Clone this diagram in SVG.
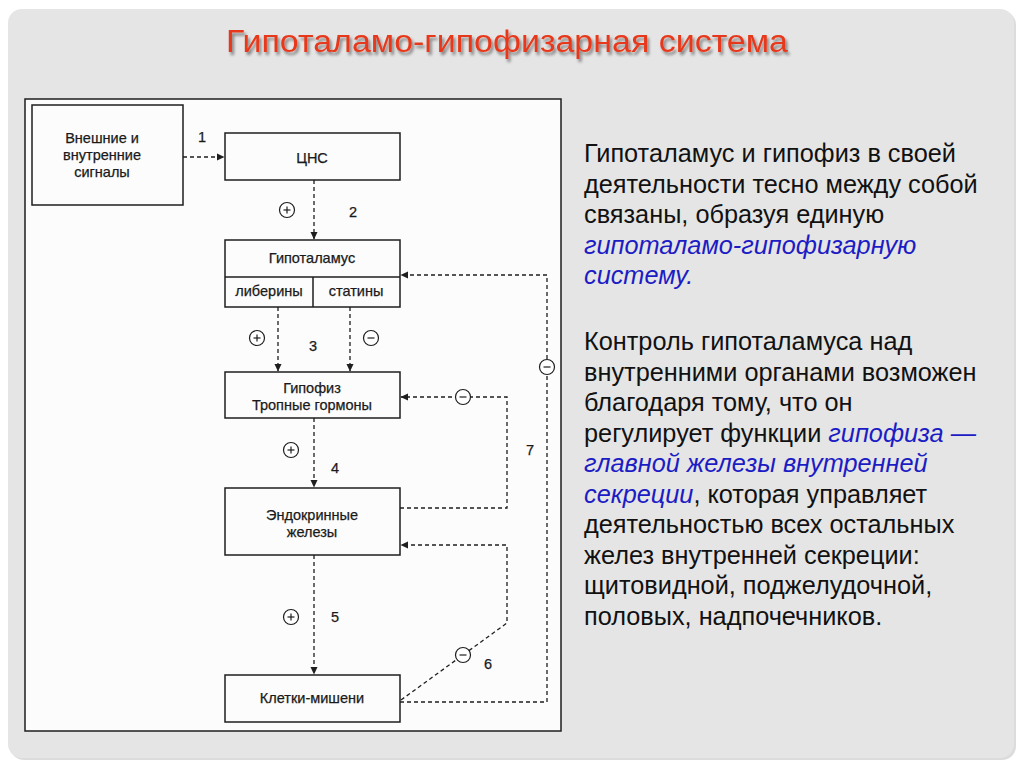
<svg xmlns="http://www.w3.org/2000/svg" width="1024" height="767" viewBox="0 0 1024 767">
<style>
.box{fill:none;stroke:#1e1e1e;stroke-width:1.5}
.lbl{font-family:"Liberation Sans",Arial,sans-serif;font-size:14.5px;fill:#1a1a1a;stroke:#1a1a1a;stroke-width:0.25;text-anchor:middle}
.num{font-family:"Liberation Sans",Arial,sans-serif;font-size:14.5px;fill:#1a1a1a;stroke:#1a1a1a;stroke-width:0.25;text-anchor:middle}
.con{fill:none;stroke:#1e1e1e;stroke-width:1.3;stroke-dasharray:4 3}
.sign circle{fill:#fff;stroke:#1e1e1e;stroke-width:1.2}
.sign line{stroke:#1e1e1e;stroke-width:1.2}
.txt{font-family:"Liberation Sans",Arial,sans-serif;font-size:25.3px;fill:#111}
.em{fill:#1c1cc4;font-style:italic}
</style>
<defs>
<marker id="ah" markerWidth="8" markerHeight="8" refX="7" refY="4" orient="auto" markerUnits="userSpaceOnUse">
<path d="M0,0.5 L7.5,4 L0,7.5 Z" fill="#1e1e1e"/>
</marker>
<filter id="sh" x="-10%" y="-40%" width="120%" height="180%">
<feDropShadow dx="2" dy="3" stdDeviation="1.8" flood-color="#000" flood-opacity="0.45"/>
</filter>
</defs>
<rect width="1024" height="767" fill="#ffffff"/>
<rect x="10" y="11" width="1006" height="749" rx="14" fill="#dcdcdc"/>
<rect x="8" y="9" width="1006" height="749" rx="14" fill="#e5e5e5"/>
<g id="title">
<text x="226" y="52" font-family="Liberation Sans,Arial,sans-serif" font-size="31" fill="#e8391b" filter="url(#sh)" textLength="562" lengthAdjust="spacingAndGlyphs">Гипоталамо-гипофизарная система</text>
</g>
<g id="frame"><rect x="25" y="99" width="536" height="632" fill="#fcfcfc" stroke="#1e1e1e" stroke-width="1.5"/></g>
<g id="signals"><rect class="box" x="32" y="105" width="151" height="100"/>
<text class="lbl" x="102" y="143">Внешние и</text><text class="lbl" x="102" y="160">внутренние</text><text class="lbl" x="102" y="177">сигналы</text></g>
<g id="cns"><rect class="box" x="225" y="133" width="175" height="47"/><text class="lbl" x="312" y="163">ЦНС</text></g>
<g id="hypothalamus"><rect class="box" x="225" y="240" width="175" height="67"/>
<line x1="225" y1="277" x2="400" y2="277" stroke="#1e1e1e" stroke-width="1.5"/>
<line x1="313" y1="277" x2="313" y2="307" stroke="#1e1e1e" stroke-width="1.5"/>
<text class="lbl" x="312" y="263">Гипоталамус</text><text class="lbl" x="269" y="296">либерины</text><text class="lbl" x="356" y="296">статины</text></g>
<g id="hypophysis"><rect class="box" x="225" y="372" width="175" height="46"/>
<text class="lbl" x="312" y="393">Гипофиз</text><text class="lbl" x="312" y="410">Тропные гормоны</text></g>
<g id="endocrine"><rect class="box" x="225" y="488" width="175" height="67"/>
<text class="lbl" x="312" y="520">Эндокринные</text><text class="lbl" x="312" y="537">железы</text></g>
<g id="targets"><rect class="box" x="225" y="675" width="175" height="47"/><text class="lbl" x="312" y="703">Клетки-мишени</text></g>
<g id="connectors">
<path class="con" d="M183,157 H224" marker-end="url(#ah)"/>
<path class="con" d="M314,180 V239" marker-end="url(#ah)"/>
<path class="con" d="M278,307 V371" marker-end="url(#ah)"/>
<path class="con" d="M350,307 V371" marker-end="url(#ah)"/>
<path class="con" d="M314,418 V487" marker-end="url(#ah)"/>
<path class="con" d="M314,555 V674" marker-end="url(#ah)"/>
<path class="con" d="M400,508 H507 V397 H401" marker-end="url(#ah)"/>
<path class="con" d="M401,700 L507,623 V545 H401" marker-end="url(#ah)"/>
<path class="con" d="M400,702 H547 V275 H401" marker-end="url(#ah)"/>
</g>
<g id="signs" class="sign">
<g><circle cx="287" cy="210" r="7.5"/><line x1="283.5" y1="210" x2="290.5" y2="210"/><line x1="287" y1="206.5" x2="287" y2="213.5"/></g>
<g><circle cx="257" cy="338" r="7.5"/><line x1="253.5" y1="338" x2="260.5" y2="338"/><line x1="257" y1="334.5" x2="257" y2="341.5"/></g>
<g><circle cx="371" cy="338" r="7.5"/><line x1="367.5" y1="338" x2="374.5" y2="338"/></g>
<g><circle cx="291" cy="450" r="7.5"/><line x1="287.5" y1="450" x2="294.5" y2="450"/><line x1="291" y1="446.5" x2="291" y2="453.5"/></g>
<g><circle cx="291" cy="617" r="7.5"/><line x1="287.5" y1="617" x2="294.5" y2="617"/><line x1="291" y1="613.5" x2="291" y2="620.5"/></g>
<g><circle cx="463" cy="397" r="7.5"/><line x1="459.5" y1="397" x2="466.5" y2="397"/></g>
<g><circle cx="547" cy="367" r="7.5"/><line x1="543.5" y1="367" x2="550.5" y2="367"/></g>
<g><circle cx="463" cy="655" r="7.5"/><line x1="459.5" y1="655" x2="466.5" y2="655"/></g>
</g>
<g id="numbers">
<text class="num" x="202" y="142">1</text><text class="num" x="353" y="217">2</text><text class="num" x="313" y="351">3</text>
<text class="num" x="335" y="473">4</text><text class="num" x="335" y="622">5</text><text class="num" x="488" y="669">6</text><text class="num" x="530" y="455">7</text>
</g>
<g id="text1" class="txt">
<text x="584" y="162">Гипоталамус и гипофиз в своей</text>
<text x="584" y="192.5">деятельности тесно между собой</text>
<text x="584" y="223">связаны, образуя единую</text>
<text x="584" y="253.5" class="em">гипоталамо-гипофизарную</text>
<text x="584" y="284" class="em">систему.</text>
</g>
<g id="text2" class="txt">
<text x="584" y="350">Контроль гипоталамуса над</text>
<text x="584" y="380.5">внутренними органами возможен</text>
<text x="584" y="411">благодаря тому, что он</text>
<text x="584" y="441.5">регулирует функции <tspan class="em">гипофиза —</tspan></text>
<text x="584" y="472" class="em">главной железы внутренней</text>
<text x="584" y="502.5"><tspan class="em">секреции</tspan>, которая управляет</text>
<text x="584" y="533">деятельностью всех остальных</text>
<text x="584" y="563.5">желез внутренней секреции:</text>
<text x="584" y="594">щитовидной, поджелудочной,</text>
<text x="584" y="624.5">половых, надпочечников.</text>
</g>
</svg>
